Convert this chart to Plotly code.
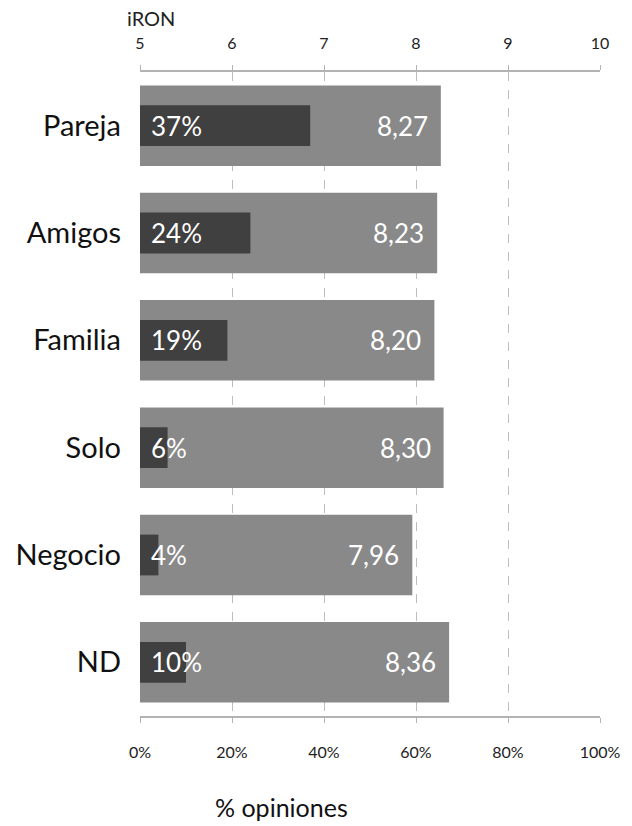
import plotly.graph_objects as go

categories = ["Pareja", "Amigos", "Familia", "Solo", "Negocio", "ND"]
iron_scores = [8.27, 8.23, 8.20, 8.30, 7.96, 8.36]
pct_opinions = [0.37, 0.24, 0.19, 0.06, 0.04, 0.10]
iron_ticks = [5, 6, 7, 8, 9, 10]
pct_ticks = [0, 0.2, 0.4, 0.6, 0.8, 1.0]
pct_tick_labels = ["0%", "20%", "40%", "60%", "80%", "100%"]

FONT = "Lato, 'Open Sans', sans-serif"
GRAY = "#898989"
DARK = "#404040"
AXIS = "#b3b3b3"

fig = go.Figure()

# iRON score bars, starting at 5 on the top axis
fig.add_trace(go.Bar(
    y=categories, x=[v - 5 for v in iron_scores], base=5,
    orientation="h", width=0.75, marker=dict(color=GRAY, line=dict(width=0)),
    xaxis="x", yaxis="y", hoverinfo="skip",
))

# share of opinions, on the bottom axis (drawn above the score bars)
fig.add_trace(go.Bar(
    y=categories, x=pct_opinions,
    orientation="h", width=0.38, marker=dict(color=DARK, line=dict(width=0)),
    xaxis="x2", yaxis="y", hoverinfo="skip",
))

annotations = []
for cat, score, pct in zip(categories, iron_scores, pct_opinions):
    annotations.append(dict(
        x=0, y=cat, xref="x2", yref="y", text=f"{round(pct * 100)}%",
        xanchor="left", xshift=9, showarrow=False,
        font=dict(family=FONT, size=26, color="white"),
    ))
    annotations.append(dict(
        x=score, y=cat, xref="x", yref="y", text=f"{score:.2f}".replace(".", ","),
        xanchor="right", xshift=-11, showarrow=False,
        font=dict(family=FONT, size=26, color="white"),
    ))

annotations.append(dict(
    x=0, y=1, xref="paper", yref="paper", text="iRON",
    xanchor="center", yanchor="bottom", yshift=40, xshift=11, showarrow=False,
    font=dict(family=FONT, size=20, color="#222"),
))
annotations.append(dict(
    x=(281 - 140) / 460, y=0, xref="paper", yref="paper", text="% opiniones",
    xanchor="center", yanchor="bottom", yshift=-108, showarrow=False,
    font=dict(family=FONT, size=25, color="#111"),
))

fig.update_layout(
    width=632, height=826,
    margin=dict(l=140, r=32, t=72, b=110),
    paper_bgcolor="white", plot_bgcolor="white",
    barmode="overlay", showlegend=False,
    font=dict(family=FONT, color="#222"),
    xaxis=dict(
        side="top", range=[5, 10], tickvals=iron_ticks,
        showline=True, linecolor=AXIS, linewidth=1.5,
        ticks="outside", ticklen=5, tickcolor=AXIS,
        showgrid=True, gridcolor="#bdbdbd", griddash="dash", gridwidth=1,
        zeroline=False, tickfont=dict(size=16), ticklabelstandoff=10,
        fixedrange=True,
    ),
    xaxis2=dict(
        overlaying="x", side="bottom", range=[0, 1],
        tickvals=pct_ticks, ticktext=pct_tick_labels,
        showline=True, linecolor=AXIS, linewidth=1.5,
        ticks="outside", ticklen=5, tickcolor=AXIS,
        showgrid=False, zeroline=False, tickfont=dict(size=16),
        ticklabelstandoff=16, fixedrange=True,
    ),
    yaxis=dict(
        categoryorder="array", categoryarray=categories, autorange="reversed",
        showline=False, ticks="", showgrid=False,
        tickfont=dict(size=29, color="#111"), ticklabelstandoff=18,
    ),
    annotations=annotations,
)

fig.write_html("out.html")
